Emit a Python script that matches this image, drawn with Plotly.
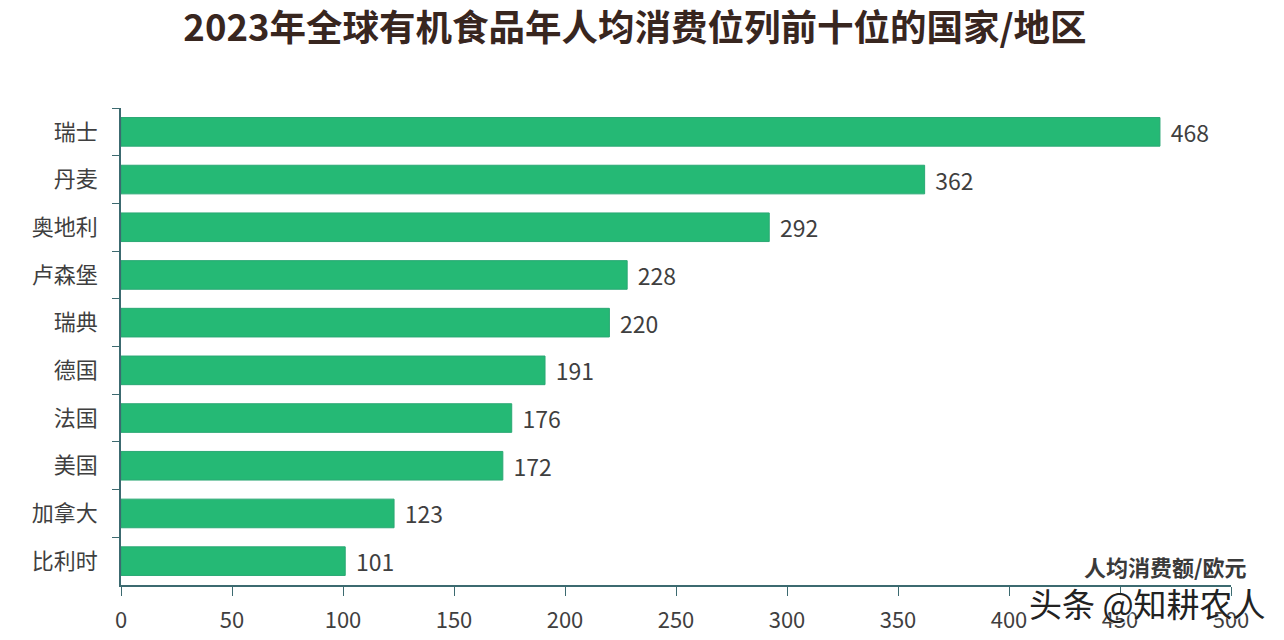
import plotly.graph_objects as go

countries = ['瑞士', '丹麦', '奥地利', '卢森堡', '瑞典', '德国', '法国', '美国', '加拿大', '比利时']
spending = [468, 362, 292, 228, 220, 191, 176, 172, 123, 101]
x_ticks = [0, 50, 100, 150, 200, 250, 300, 350, 400, 450, 500]

CJK_FONT = 'Noto Sans CJK SC'
TEXT_COLOR = '#3f3f3f'
AXIS_COLOR = '#3c6a70'

fig = go.Figure()

# the leading space pushes the value away from the end of the bar
fig.add_trace(go.Bar(x=spending, y=countries,
                     orientation='h',
                     width=0.6,
                     marker=dict(color='#25b975', line=dict(color='#2aa874', width=1)),
                     texttemplate='\u2004%{x}',
                     textposition='outside',
                     constraintext='none',
                     cliponaxis=False,
                     textfont=dict(family=CJK_FONT, size=23, color=TEXT_COLOR)))

# the page has an 8px body margin, so the figure is 8px smaller on each side
fig.update_layout(
    width=1276,
    height=632,
    margin=dict(l=113, r=53, t=100, b=55),
    paper_bgcolor='white',
    plot_bgcolor='white',
    showlegend=False,
    title=dict(text='<b>2023年全球有机食品年人均消费位列前十位的国家/地区</b>',
               x=627 / 1276, xanchor='center',
               y=1 - 20 / 632, yanchor='middle',
               font=dict(family=CJK_FONT, size=36.5, color='#38261f')),
    annotations=[
        dict(text='<b>人均消费额/欧元</b>', xref='paper', yref='paper',
             x=1.0165, y=0, xanchor='right', yanchor='bottom', yshift=1, showarrow=False,
             font=dict(family=CJK_FONT, size=22, color='#3a3a3a')),
        dict(text='头条 @知耕农人', xref='paper', yref='paper',
             x=1.0335, y=0, xanchor='right', yanchor='middle', yshift=-18, showarrow=False,
             font=dict(family=CJK_FONT, size=33, color='#222222',
                       shadow='1px 1px 1px white')),
    ],
)

fig.update_xaxes(range=[0, 500], tickvals=x_ticks, showgrid=False, zeroline=False,
                 showline=True, linecolor=AXIS_COLOR, linewidth=1.5,
                 ticks='outside', ticklen=9, tickcolor=AXIS_COLOR, tickwidth=1,
                 ticklabelstandoff=6, automargin=False,
                 tickfont=dict(family=CJK_FONT, size=22, color=TEXT_COLOR))
fig.update_yaxes(autorange='reversed', showgrid=False, zeroline=False,
                 showline=True, linecolor=AXIS_COLOR, linewidth=1.5,
                 ticks='outside', ticklen=7, tickcolor=AXIS_COLOR, tickwidth=1,
                 tickson='boundaries', ticklabelstandoff=17, automargin=False,
                 tickfont=dict(family=CJK_FONT, size=22, color=TEXT_COLOR))

fig.write_html("out.html")
